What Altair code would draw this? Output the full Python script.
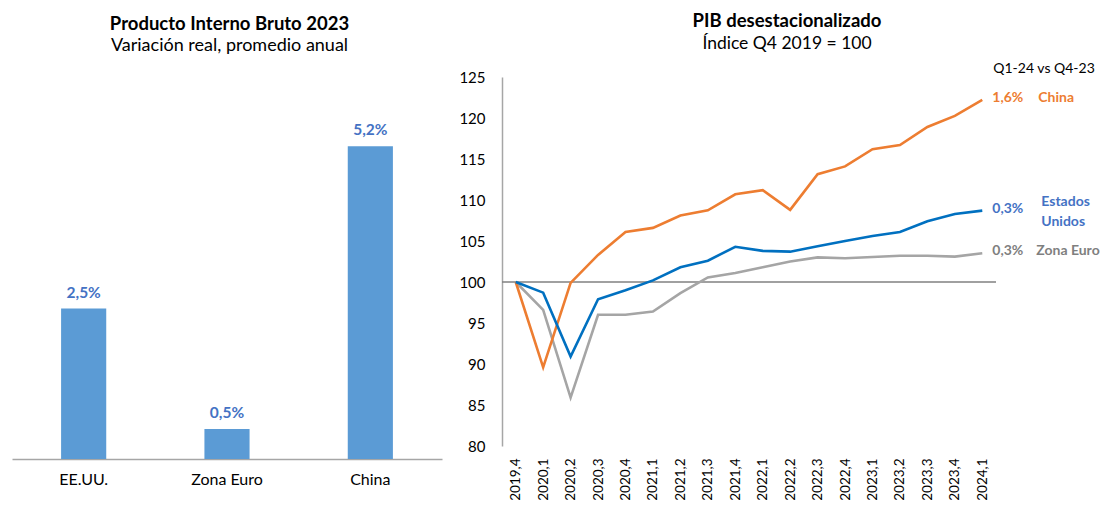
import altair as alt
import pandas as pd

# ---- Left chart data ----
countries = ["EE.UU.", "Zona Euro", "China"]
growth = [2.5, 0.5, 5.2]
growth_labels = ["2,5%", "0,5%", "5,2%"]

# ---- Right chart data ----
quarters = ["2019,4", "2020,1", "2020,2", "2020,3", "2020,4",
            "2021,1", "2021,2", "2021,3", "2021,4",
            "2022,1", "2022,2", "2022,3", "2022,4",
            "2023,1", "2023,2", "2023,3", "2023,4", "2024,1"]
usa = [100.0, 98.7, 90.9, 97.9, 99.0, 100.2, 101.8, 102.6, 104.3,
       103.8, 103.7, 104.35, 105.0, 105.6, 106.1, 107.4, 108.3, 108.7]
china = [100.0, 89.6, 99.9, 103.3, 106.1, 106.6, 108.1, 108.75, 110.7,
         111.2, 108.8, 113.15, 114.1, 116.2, 116.7, 118.9, 120.25, 122.2]
euro = [100.0, 96.6, 85.9, 96.0, 96.0, 96.4, 98.65, 100.55, 101.1,
        101.8, 102.5, 103.0, 102.9, 103.05, 103.2, 103.2, 103.1, 103.5]

series_names = ["Zona Euro", "China", "Estados Unidos"]
series_values = [euro, china, usa]
line_colors = ["#A5A5A5", "#ED7D31", "#0070C0"]
end_pct = ["0,3%", "1,6%", "0,3%"]
end_names = ["Zona Euro", "China", "Estados\nUnidos"]
label_colors = ["#7F7F7F", "#ED7D31", "#4472C4"]
name_dx = [54, 56, 59]
name_dy = [0, 0, -7]
y_ticks = [80, 85, 90, 95, 100, 105, 110, 115, 120, 125]
note_text = "Q1-24 vs Q4-23"

FONT = "Lato"

# ---------- Left chart ----------
bar_df = pd.DataFrame({"pais": countries, "valor": growth, "etiqueta": growth_labels})
xl = alt.X("pais:N", sort=countries,
           scale=alt.Scale(paddingInner=0.685, paddingOuter=0.3425),
           axis=alt.Axis(title=None, labelAngle=0, ticks=False, domainColor="#A6A6A6",
                         domainWidth=1.5, labelFontSize=16, labelColor="#000000",
                         labelPadding=12, labelFont=FONT))
yl = alt.Y("valor:Q", scale=alt.Scale(domain=[0, 6.35], nice=False), axis=None)

bars = alt.Chart(bar_df).mark_bar(color="#5B9BD5").encode(x=xl, y=yl)
bar_text = alt.Chart(bar_df).mark_text(dy=-11, baseline="alphabetic", fontWeight="bold",
                                       fontSize=15.5, color="#4472C4", font=FONT).encode(
    x=xl, y=yl, text="etiqueta:N")

left = alt.layer(bars, bar_text).properties(
    width=430, height=382,
    title=alt.TitleParams("Producto Interno Bruto 2023",
                          subtitle="Variación real, promedio anual",
                          subtitleFontSize=18, dx=2.5, offset=22))

# ---------- Right chart ----------
rows = []
for name, vals in zip(series_names, series_values):
    for q, v in zip(quarters, vals):
        rows.append({"q": q, "v": v, "serie": name})
line_df = pd.DataFrame(rows)

xr = alt.X("q:O", sort=quarters, scale=alt.Scale(padding=0.5),
           axis=alt.Axis(title=None, labelAngle=-90, ticks=False, domain=False,
                         labelFontSize=13.5, labelColor="#000000", labelPadding=12,
                         labelFont=FONT))
yr = alt.Y("v:Q", scale=alt.Scale(domain=[80, 125], nice=False, zero=False),
           axis=alt.Axis(title=None, values=y_ticks, ticks=False, grid=False,
                         domainColor="#A6A6A6", domainWidth=1.5, labelFontSize=15,
                         labelColor="#000000", labelPadding=17, labelFont=FONT))

lines = alt.Chart(line_df).mark_line(strokeWidth=2.6).encode(
    x=xr, y=yr,
    color=alt.Color("serie:N", sort=series_names,
                    scale=alt.Scale(domain=series_names, range=line_colors), legend=None),
    order=alt.Order("serie:N"))

ref_df = pd.DataFrame({"v": [100]})
ref = alt.Chart(ref_df).mark_rule(color="#808080", strokeWidth=1.5).encode(y=alt.Y("v:Q"))

end_df = pd.DataFrame({
    "q": [quarters[-1]] * 3,
    "v": [vals[-1] for vals in series_values],
    "pct": end_pct,
    "nombre": end_names,
    "col": label_colors,
})

pct_text = alt.Chart(end_df).mark_text(align="left", baseline="middle", dx=10, dy=-2,
                                       fontWeight="bold", fontSize=14, font=FONT).encode(
    x=xr, y=yr, text="pct:N", color=alt.Color("col:N", scale=None))

name_layers = []
for i in range(3):
    sub = end_df.iloc[[i]]
    name_layers.append(
        alt.Chart(sub).mark_text(align="left", baseline="middle", dx=name_dx[i],
                                 dy=name_dy[i] - 2, fontWeight="bold", fontSize=14,
                                 font=FONT, lineBreak="\n", lineHeight=20,
                                 color=label_colors[i]).encode(
            x=xr, y=yr, text="nombre:N"))

note_df = pd.DataFrame({"q": [quarters[-1]], "v": [125], "t": [note_text]})
note = alt.Chart(note_df).mark_text(align="left", baseline="middle", dx=11, dy=-8,
                                    fontSize=14, font=FONT, color="#000000").encode(
    x=xr, y=yr, text="t:N")

right = alt.layer(ref, lines, pct_text, *name_layers, note).properties(
    width=494, height=369,
    title=alt.TitleParams("PIB desestacionalizado",
                          subtitle="Índice Q4 2019 = 100", dx=38, offset=10))

chart = alt.hconcat(left, right, spacing=16).properties(
    padding={"left": 4, "top": 4, "right": 0, "bottom": 0}
).configure_view(stroke=None).configure_title(
    font=FONT, fontSize=18.5, fontWeight="bold", color="#000000",
    subtitleFont=FONT, subtitleFontSize=17.5, subtitleColor="#000000",
    subtitlePadding=4, anchor="middle"
)

chart.save("out.html", embed_options={"renderer": "svg", "actions": False})
